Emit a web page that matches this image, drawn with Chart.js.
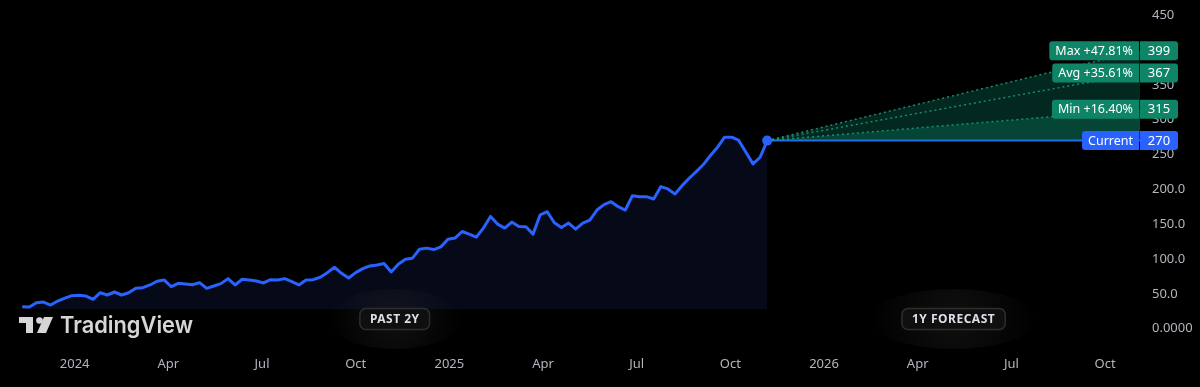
<!DOCTYPE html>
<html>
<head>
<meta charset="utf-8">
<script src="https://cdn.jsdelivr.net/npm/chart.js@4.4.1/dist/chart.umd.min.js"></script>
<style>
  html, body { margin: 0; padding: 0; background: #000; }
  #wrap { width: 1200px; height: 387px; position: relative; }
</style>
</head>
<body>
<div id="wrap"><canvas id="forecastChart"></canvas></div>
<script>
// ====== Data ======
// weekly closes, mid Nov 2023 -> early Nov 2025
const closes = [
  31.4, 31.0, 37.2, 38.2, 33.9, 39.6, 43.9, 47.3, 47.8, 46.8,
  42.1, 51.6, 48.3, 52.6, 48.3, 51.6, 57.9, 58.8, 62.7, 68.0,
  69.9, 60.2, 65.1, 64.1, 63.1, 66.0, 57.9, 61.2, 64.6, 71.8,
  62.7, 70.9, 69.9, 68.4, 65.6, 70.3, 69.9, 71.8, 67.4, 62.7,
  69.9, 70.3, 73.8, 80.4, 88.2, 79.5, 72.8, 80.4, 86.2, 90.1,
  91.5, 93.4, 81.4, 92.5, 99.7, 101.2, 114.1, 115.6, 113.5, 117.4,
  128.5, 130.0, 139.5, 135.7, 131.4, 144.4, 161.1, 150.1, 144.4, 153.0,
  146.7, 146.3, 135.7, 163.5, 167.9, 152.0, 145.2, 151.6, 142.9, 151.6,
  155.9, 170.3, 178.0, 182.3, 175.1, 170.3, 190.9, 189.5, 189.5, 186.2,
  203.9, 200.6, 193.4, 205.3, 215.9, 225.5, 235.6, 248.6, 260.5, 274.9,
  274.9, 270.2, 253.3, 236.6, 246.1, 270
];
// x is measured in months from Jan 2024
const histStart = -1.68;
const histEnd = 22.18;
const forecastEnd = 34.12;

const currentPrice = 270;
const forecastNames = ['Max', 'Avg', 'Min'];
const forecastTargets = [399, 367, 315];
const forecastChanges = ['+47.81%', '+35.61%', '+16.40%'];

const xTickMonths = [0, 3, 6, 9, 12, 15, 18, 21, 24, 27, 30, 33];
const xTickLabels = ['2024', 'Apr', 'Jul', 'Oct', '2025', 'Apr', 'Jul', 'Oct', '2026', 'Apr', 'Jul', 'Oct'];
const yTickValues = [0, 50, 100, 150, 200, 250, 300, 350, 400, 450];
const yTickLabels = ['0.0000', '50.0', '100.0', '150.0', '200.0', '250', '300', '350', '400', '450'];

// ====== Colors ======
const BLUE = '#2962ff';
const GREEN = '#0f8567';
const AXIS_TEXT = '#b2b5be';

Chart.defaults.font.family = '"Noto Sans", sans-serif';
Chart.defaults.font.size = 13;

const histPoints = closes.map((v, i) => ({
  x: histStart + i * (histEnd - histStart) / (closes.length - 1),
  y: v
}));
const fanLine = (target) => [{ x: histEnd, y: currentPrice }, { x: forecastEnd, y: target }];

// ====== Overlay plugins ======
function drawPill(ctx, cx, cy, text) {
  ctx.save();
  ctx.font = 'bold 12px "Noto Sans"';
  ctx.letterSpacing = '0.5px';
  const tw = ctx.measureText(text).width;
  const w = tw + 20, h = 21;
  // soft halo
  const g = ctx.createRadialGradient(cx, cy, 10, cx, cy, w / 2 + 32);
  g.addColorStop(0, 'rgba(40,40,40,0.35)');
  g.addColorStop(1, 'rgba(40,40,40,0)');
  ctx.fillStyle = g;
  ctx.beginPath();
  ctx.ellipse(cx, cy, w / 2 + 32, 30, 0, 0, Math.PI * 2);
  ctx.fill();
  ctx.fillStyle = '#0f0f0f';
  ctx.beginPath();
  ctx.roundRect(cx - w / 2, cy - h / 2, w, h, 6);
  ctx.fill();
  ctx.strokeStyle = '#2e2e2e';
  ctx.lineWidth = 1.5;
  ctx.stroke();
  ctx.fillStyle = '#dcdfe6';
  ctx.textAlign = 'center';
  ctx.textBaseline = 'middle';
  ctx.fillText(text, cx, cy + 0.5);
  ctx.restore();
}

function drawLogo(ctx) {
  ctx.save();
  ctx.fillStyle = '#d6d6d6';
  ctx.fillRect(19, 317, 14, 6);
  ctx.fillRect(26, 317, 7, 16);
  ctx.beginPath();
  ctx.arc(39.5, 320.5, 3.3, 0, Math.PI * 2);
  ctx.fill();
  ctx.beginPath();
  ctx.moveTo(44, 317); ctx.lineTo(53, 317); ctx.lineTo(46, 333); ctx.lineTo(37, 333);
  ctx.closePath();
  ctx.fill();
  ctx.font = '600 23px Inter';
  const w = ctx.measureText('TradingView').width;
  ctx.translate(60, 333);
  ctx.scale(133 / w, 1);
  ctx.fillText('TradingView', 0, 0);
  ctx.restore();
}

function drawTag(ctx, right, y, text, value, color) {
  ctx.save();
  ctx.font = '12.5px "Noto Sans"';
  const tw = ctx.measureText(text).width;
  const h = 19;
  const left = right - 1 - tw - 12;
  ctx.fillStyle = color;
  ctx.beginPath();
  ctx.roundRect(left, y - h / 2, right - 1 - left, h, [3, 0, 0, 3]);
  ctx.fill();
  ctx.beginPath();
  ctx.roundRect(right, y - h / 2, 38, h, [0, 3, 3, 0]);
  ctx.fill();
  ctx.fillStyle = '#ffffff';
  ctx.textBaseline = 'middle';
  ctx.textAlign = 'center';
  ctx.fillText(text, (left + right - 1) / 2, y + 0.5);
  ctx.font = '13px "Noto Sans"';
  ctx.fillText(value, right + 19, y + 0.5);
  ctx.restore();
}

const overlayPlugin = {
  id: 'overlay',
  afterDatasetsDraw(chart) {
    const ctx = chart.ctx;
    const xs = chart.scales.x;
    drawPill(ctx, xs.getPixelForValue((histStart + histEnd) / 2), 319, 'PAST 2Y');
    drawPill(ctx, xs.getPixelForValue((histEnd + forecastEnd) / 2), 319, '1Y FORECAST');
    drawLogo(ctx);
  },
  afterDraw(chart) {
    const ctx = chart.ctx;
    const ys = chart.scales.y;
    const right = chart.chartArea.right;
    forecastNames.forEach((name, i) => {
      drawTag(ctx, right, ys.getPixelForValue(forecastTargets[i]),
        name + ' ' + forecastChanges[i], String(forecastTargets[i]), GREEN);
    });
    drawTag(ctx, right, ys.getPixelForValue(currentPrice), 'Current', String(currentPrice), BLUE);
  }
};

// ====== Chart ======
const fanDash = {
  borderColor: 'rgba(30,160,128,0.85)',
  borderWidth: 1.5,
  borderDash: [2, 3],
  pointRadius: 0,
  tension: 0
};

const ctx = document.getElementById('forecastChart').getContext('2d');
const forecastChart = new Chart(ctx, {
  type: 'line',
  data: {
    datasets: [
      {
        label: 'Price',
        data: histPoints,
        borderColor: BLUE,
        borderWidth: 3,
        borderJoinStyle: 'round',
        backgroundColor: '#050918',
        fill: { value: 27.7 },
        tension: 0,
        pointRadius: (c) => (c.dataIndex === closes.length - 1 ? 5 : 0),
        pointBackgroundColor: BLUE,
        pointBorderWidth: 0
      },
      { label: 'Max', data: fanLine(forecastTargets[0]), ...fanDash, fill: '+2', backgroundColor: 'rgba(8,153,120,0.26)' },
      { label: 'Avg', data: fanLine(forecastTargets[1]), ...fanDash, fill: false },
      { label: 'Min', data: fanLine(forecastTargets[2]), ...fanDash, fill: '+1', backgroundColor: 'rgba(8,153,120,0.45)' },
      {
        label: 'Current',
        data: [{ x: histEnd, y: currentPrice }, { x: forecastEnd, y: currentPrice }],
        borderColor: BLUE,
        borderWidth: 2,
        pointRadius: 0,
        fill: false
      }
    ]
  },
  options: {
    responsive: true,
    maintainAspectRatio: false,
    animation: false,
    layout: { padding: { left: 0, right: 0, top: 0, bottom: 5 } },
    plugins: {
      legend: { display: false },
      tooltip: { enabled: false }
    },
    scales: {
      x: {
        type: 'linear',
        min: -2.232,
        max: forecastEnd,
        grid: { display: false, drawTicks: false },
        border: { display: false },
        afterBuildTicks: (scale) => { scale.ticks = xTickMonths.map(v => ({ value: v })); },
        ticks: {
          color: AXIS_TEXT,
          padding: 10,
          maxRotation: 0,
          autoSkip: false,
          callback: (v) => xTickLabels[xTickMonths.indexOf(v)]
        }
      },
      y: {
        position: 'right',
        min: -25.5,
        max: 457.8,
        grid: { drawOnChartArea: false, drawTicks: true, tickLength: 10, color: 'transparent' },
        border: { display: false },
        afterFit: (scale) => { scale.width = 60; },
        afterBuildTicks: (scale) => { scale.ticks = yTickValues.map(v => ({ value: v })); },
        ticks: {
          color: AXIS_TEXT,
          padding: 2,
          crossAlign: 'near',
          callback: (v) => yTickLabels[yTickValues.indexOf(v)]
        }
      }
    }
  },
  plugins: [overlayPlugin]
});
</script>
</body>
</html>
